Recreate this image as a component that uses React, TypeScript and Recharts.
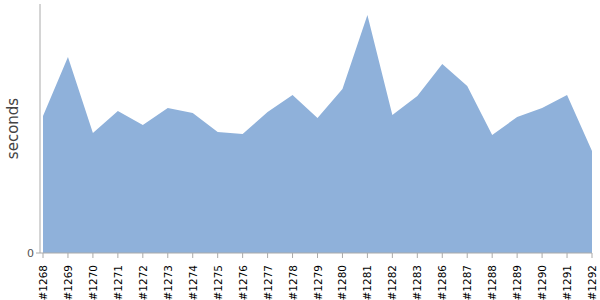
import { Area, AreaChart, XAxis, YAxis } from "recharts";

const builds = [
  "#1268", "#1269", "#1270", "#1271", "#1272", "#1273", "#1274", "#1275",
  "#1276", "#1277", "#1278", "#1279", "#1280", "#1281", "#1282", "#1283",
  "#1286", "#1287", "#1288", "#1289", "#1290", "#1291", "#1292",
];

const durations = [
  137, 196, 120, 142, 128, 145, 140, 121, 119, 141, 158, 135, 164, 238, 138,
  157, 189, 167, 118, 136, 145, 158, 102,
];

const data = builds.map((build, i) => ({ build, seconds: durations[i] }));

const BuildTick = ({ x, y, payload }: any) => (
  <text
    x={0}
    y={0}
    transform={`translate(${x + 4},${y + 5}) rotate(-90)`}
    textAnchor="end"
    fontSize={10.5}
    fill="#000"
    fontFamily="DejaVu Sans, sans-serif"
  >
    {payload.value}
  </text>
);

const SecondsLabel = ({ viewBox }: any) => {
  const cy = viewBox.y + viewBox.height / 2;
  return (
    <text
      x={0}
      y={0}
      transform={`translate(18,${cy}) rotate(-90)`}
      textAnchor="middle"
      fontSize={15}
      fill="#444"
      fontFamily="DejaVu Sans, sans-serif"
    >
      seconds
    </text>
  );
};

export default function App() {
  return (
    <div style={{ position: "absolute", left: 0, top: 0, background: "#fff" }}>
      <AreaChart
        width={600}
        height={300}
        data={data}
        margin={{ top: 4, right: 8, left: 0, bottom: 0 }}
      >
        <XAxis
          dataKey="build"
          interval={0}
          height={47}
          padding={{ left: 3, right: 0 }}
          stroke="#aaa"
          tickSize={5}
          tick={<BuildTick />}
        />
        <YAxis
          width={40}
          domain={[0, 249]}
          ticks={[0]}
          stroke="#aaa"
          tickSize={4}
          tick={{ fill: "#555", fontSize: 11, fontFamily: "DejaVu Sans, sans-serif" }}
          label={<SecondsLabel />}
        />
        <Area
          type="linear"
          dataKey="seconds"
          stroke="none"
          fill="#8fb1da"
          fillOpacity={1}
          isAnimationActive={false}
        />
      </AreaChart>
    </div>
  );
}
